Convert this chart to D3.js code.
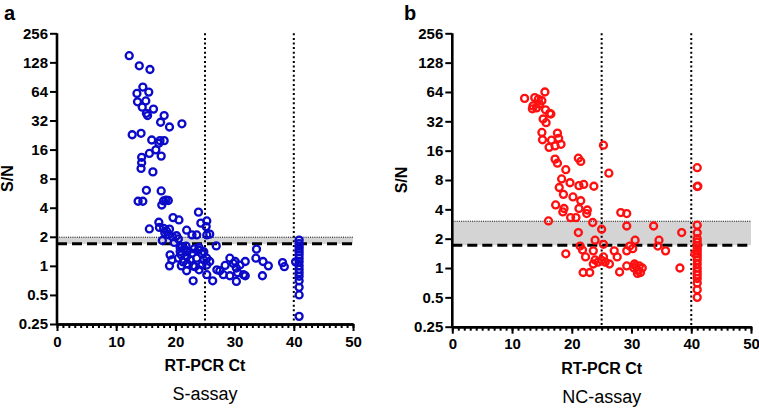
<!DOCTYPE html>
<html><head><meta charset="utf-8">
<script src="https://cdn.jsdelivr.net/npm/d3@7"></script>
<style>
body{margin:0;background:#fff;}
svg{display:block;}
text{font-family:"Liberation Sans",Arial,sans-serif;}
</style></head>
<body><svg id="c" width="759" height="408"></svg>
<script>
// ---------------- data ----------------
const xTicks = [0,10,20,30,40,50];
const yTicks = [0.25,0.5,1,2,4,8,16,32,64,128,256];
const yTickLabels = ["0.25","0.5","1","2","4","8","16","32","64","128","256"];
const ctCutoffs = [25,40];
const panelLetters = ["a","b"];
const assayNames = ["S-assay","NC-assay"];
const xTitle = "RT-PCR Ct";
const yTitle = "S/N";
// cut-off line (dashed) and grey-zone upper bound (dotted)
const cutoffS = 1.69, greyTopS = 1.98;
const cutoffNC = 1.71, greyTopNC = 3.02;

const sAssay = [
[12.2,150],[13.9,118],[15.7,108],
[14.5,71],[13.5,61],[15.5,63],[13.6,50],[15.0,51],[14.4,44],[16.3,42],[15.3,36],[15.1,38],[18.1,36],[17.5,30.7],[19.0,27.4],[21.1,29.6],
[12.7,22.8],[14.2,23.6],[16.0,20.1],[17.4,19.8],[18.1,19.8],[17.2,18.6],[16.7,15.9],[15.6,14.6],[17.6,13.7],[14.3,13.3],[14.3,11.7],[14.2,10.2],[16.2,9.4],
[15.1,6.06],[17.6,5.97],[13.7,4.67],[14.5,4.67],[18.4,4.8],[18.8,4.75],[18.0,4.7],[17.7,4.27],
[23.9,3.6],[19.6,3.16],[20.6,2.99],[24.3,2.77],[25.3,2.92],[25.2,2.55],[17.2,2.83],[15.6,2.41],[21.9,2.34],[22.8,2.09],[23.6,2.09],[25.3,2.09],[25.8,2.13],
[17.3,2.5],[18.0,2.45],[18.5,2.3],[19.0,2.4],[18.2,2.2],[18.8,2.1],[19.5,2.0],[20.2,2.05],[17.8,1.83],[19.8,1.75],[20.5,1.9],
[26.9,1.61],
[21.1,1.58],[20.8,1.41],[21.9,1.25],[23.6,1.2],[25.3,1.2],[25.8,1.11],[23.9,1.46],[24.4,1.35],[21.5,1.5],[22.0,1.4],[21.0,1.3],[22.5,1.15],[20.5,1.2],[21.3,1.1],[22.8,1.35],[23.2,1.5],[24.0,1.55],[24.8,1.4],[24.8,1.15],[22.0,1.05],[21.0,1.0],[23.0,1.0],[24.5,1.02],[20.8,1.55],[21.8,1.6],
[19.1,1.3],[19.4,1.15],[19.0,1.0],[21.9,0.89],[23.0,0.7],[25.3,0.81],[26.3,0.7],[27.5,0.89],[28.4,1.01],[29.2,1.2],[30.1,1.11],[30.9,1.02],[31.8,1.11],[30.3,0.95],[31.5,0.81],[30.3,0.69],[28.1,0.81],[23.3,0.98],[24.0,0.91],[25.3,1.02],[29.8,1.06],[30.5,0.85],[31.8,0.79],[27.0,0.91],[29.2,0.79],
[33.7,1.49],[33.6,1.2],[34.8,1.11],[35.7,1.0],[34.7,0.79],[38.1,1.08],[38.4,0.98],
[40.3,1.1],
[40.9,1.85],[40.9,1.7],[40.9,1.6],[40.9,1.5],[40.9,1.4],[40.9,1.3],[40.9,1.2],[40.9,1.1],[40.9,1.0],[40.9,0.92],[40.9,0.85],[40.9,0.78],[40.9,0.7],[40.9,0.6],[40.9,0.5],[40.9,0.3]
];

const ncAssay = [
[12.1,55],[15.5,64],[13.8,56],[14.4,54],[13.5,46],[13.4,43],[14.1,44],[15.0,52],[14.6,48],[15.6,42],[16.3,38.6],[15.2,33.8],[15.7,31],[16.5,38],
[15.0,24.6],[15.1,20.7],[17.6,24.2],[17.8,21.4],[18.2,18.6],[16.6,20.5],[17.2,17.9],[16.2,17.3],
[25.3,18.2],[17.2,13.1],[17.6,11.9],[21.1,13.4],[21.5,12.4],[19.0,10.2],[26.2,9.4],
[18.3,8.2],[17.9,6.7],[18.6,5.7],[19.7,7.5],[21.2,7.0],[22.0,7.2],[23.7,6.9],[20.2,5.36],[21.5,4.9],
[17.3,4.44],[18.7,4.08],[18.5,3.76],[21.2,4.08],[22.6,3.94],[22.5,3.62],[19.8,3.29],[20.7,3.29],[16.1,3.04],[23.5,2.93],[28.2,3.71],[29.2,3.62],[29.2,2.7],[33.7,2.7],[38.4,2.31],[25.0,2.5],[21.1,2.31],
[23.9,1.93],[25.3,1.75],[30.6,1.93],[29.7,1.68],[30.2,1.58],[34.6,1.93],[34.4,1.68],[35.7,1.5],[21.4,1.68],[21.8,1.53],[22.3,1.3],[23.6,1.5],[19.0,1.4],[27.1,1.5],[27.6,1.3],[29.2,1.5],
[23.9,1.21],[24.4,1.15],[25.0,1.2],[25.6,1.15],[23.6,1.1],[26.3,1.1],[25.3,1.3],
[29.2,1.05],[30.4,1.0],[30.7,1.05],[31.0,0.95],[31.5,0.9],[31.8,1.0],[31.0,0.88],[30.5,1.1],[31.3,1.05],
[28.0,0.91],[21.9,0.9],[23.0,0.9],[38.1,1.0],
[40.6,1.4],
[41.0,10.7],[41.0,6.85],[41.1,6.9],[41.0,2.75],[41.0,2.3],[41.0,2.0],[41.0,1.85],[41.0,1.7],[41.0,1.6],[41.0,1.5],[41.0,1.4],[41.0,1.3],[41.0,1.2],[41.0,1.1],[41.0,1.0],[41.0,0.92],[41.0,0.85],[41.0,0.78],[41.0,0.7],[41.0,0.6],[41.0,0.5]
];

// ---------------- layout ----------------
const panels = [
  {data:sAssay, color:"#0a0ac8", cut:cutoffS, grey:greyTopS, letter:panelLetters[0], name:assayNames[0],
   x0:57, x1:353, yTop:33.3, yBot:324, lx:4, ylab:13},
  {data:ncAssay, color:"#ff1010", cut:cutoffNC, grey:greyTopNC, letter:panelLetters[1], name:assayNames[1],
   x0:452.3, x1:751, yTop:33.3, yBot:326.7, lx:404, ylab:407}
];

const svg = d3.select("#c");

panels.forEach(p => {
  const x = d3.scaleLinear().domain([0,50]).range([p.x0,p.x1]);
  const y = d3.scaleLog().base(2).domain([0.25,256]).range([p.yBot,p.yTop]);
  const g = svg.append("g");

  // grey zone
  g.append("rect").attr("x",x(0)).attr("width",x(50)-x(0))
    .attr("y",y(p.grey)).attr("height",y(p.cut)-y(p.grey)).attr("fill","#d4d4d4");
  g.append("line").attr("x1",x(0)).attr("x2",x(50)).attr("y1",y(p.grey)).attr("y2",y(p.grey))
    .attr("stroke","#000").attr("stroke-width",1).attr("stroke-dasharray","1,1.2");
  // cut-off dashed line
  g.append("line").attr("x1",x(0)).attr("x2",x(50)).attr("y1",y(p.cut)).attr("y2",y(p.cut))
    .attr("stroke","#000").attr("stroke-width",3).attr("stroke-dasharray","10,5");
  // vertical Ct cut-offs
  ctCutoffs.forEach(c => {
    g.append("line").attr("x1",x(c)).attr("x2",x(c)).attr("y1",y(256)).attr("y2",y(0.25))
      .attr("stroke","#000").attr("stroke-width",2).attr("stroke-dasharray","2,2.6");
  });

  // points
  g.append("g").selectAll("circle").data(p.data).join("circle")
    .attr("cx",d=>x(d[0])).attr("cy",d=>y(d[1])).attr("r",3.5)
    .attr("fill","none").attr("stroke",p.color).attr("stroke-width",2.3);

  // y axis
  const ya = g.append("g").attr("transform",`translate(${x(0)},0)`)
    .call(d3.axisLeft(y).tickValues(yTicks).tickFormat((d,i)=>yTickLabels[i]).tickSize(7).tickSizeOuter(0).tickPadding(2));
  // x axis minor
  const xm = g.append("g").attr("transform",`translate(0,${y(0.25)})`)
    .call(d3.axisBottom(x).tickValues(d3.range(0,51,1)).tickFormat("").tickSize(4).tickSizeOuter(0));
  const xa = g.append("g").attr("transform",`translate(0,${y(0.25)})`)
    .call(d3.axisBottom(x).tickValues(xTicks).tickFormat(d3.format("d")).tickSize(7).tickSizeOuter(0).tickPadding(5));
  [ya,xm,xa].forEach(a=>{
    a.select(".domain").attr("stroke","#000").attr("stroke-width",2.6);
    a.selectAll(".tick line").attr("stroke","#000").attr("stroke-width",2);
    a.selectAll("text").attr("fill","#000").style("font-size","15px").style("font-weight","bold")
      .style("font-family","'Liberation Sans',Arial,sans-serif");
  });
  ya.select(".domain").attr("d",`M0,${y(256)}V${y(0.25)}`);

  // titles
  g.append("text").attr("x",x(25)).attr("y",p.yBot+47).attr("text-anchor","middle")
    .style("font-size","16px").style("font-weight","bold").text(xTitle);
  g.append("text").attr("transform",`translate(${p.ylab},${(p.yTop+p.yBot)/2}) rotate(-90)`)
    .attr("text-anchor","middle").style("font-size","16px").style("font-weight","bold").text(yTitle);
  g.append("text").attr("x",x(25)).attr("y",p.yBot+76).attr("text-anchor","middle")
    .style("font-size","18px").text(p.name);
  g.append("text").attr("x",p.lx).attr("y",20).style("font-size","20px").style("font-weight","bold").text(p.letter);
});
</script></body></html>
